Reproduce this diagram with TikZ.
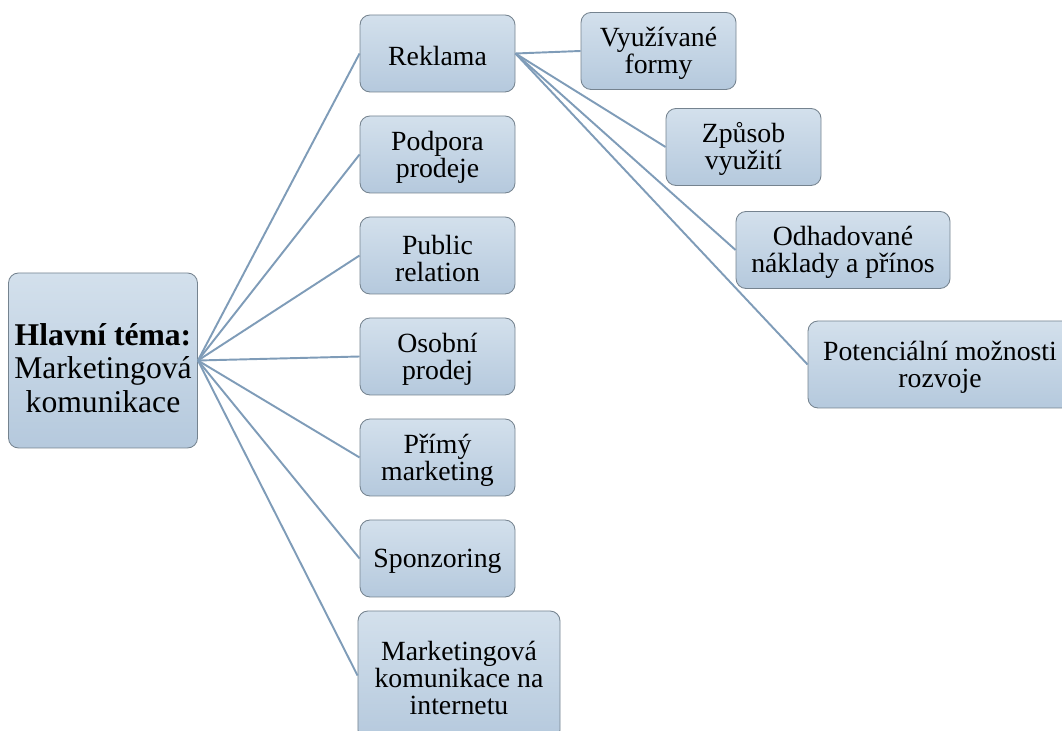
\documentclass[tikz,border=0pt]{standalone}
\usepackage{fontspec}
\setmainfont{Liberation Serif}
\usetikzlibrary{positioning}

\definecolor{boxtop}{HTML}{D3E0EC}
\definecolor{boxbot}{HTML}{B5C9DD}
\definecolor{boxline}{HTML}{75838F}
\definecolor{linkblue}{HTML}{7F9CB8}

\newcommand{\topicfont}{\fontsize{15.8}{15.3}\selectfont\lineskiplimit=-20pt\relax}
\newcommand{\mainfont}{\fontsize{18}{19}\selectfont\lineskiplimit=-20pt\relax}

\begin{document}
\begin{tikzpicture}[node distance=2.02cm, on grid, topic/.style={draw=boxline, line width=0.5pt, rounded corners=0.2cm, top color=boxtop, bottom color=boxbot, align=flush center, text width=2.9cm, text height=14pt, minimum width=3.1cm, minimum height=1.54cm, inner sep=2pt, font=\topicfont}, link/.style={draw=linkblue, line width=1.1pt}]

    \clip (0,0) rectangle (21.24,-14.62);

    \node[topic, minimum width=3.78cm, minimum height=3.5cm, text width=3.6cm, text height=21pt, font=\mainfont] (main) at (2.06,-7.21) {\textbf{Hlavní téma:}\\ Marketingová\\ komunikace};

    \node[topic] (rek) at (8.75,-1.07) {Reklama};
    \node[topic] (pod) [below=of rek] {Podpora\\ prodeje};
    \node[topic] (pub) [below=of pod] {Public\\ relation};
    \node[topic] (oso) [below=of pub] {Osobní\\ prodej};
    \node[topic] (pri) [below=of oso] {Přímý\\ marketing};
    \node[topic] (spo) [below=of pri] {Sponzoring};
    \node[topic, minimum width=4.04cm, text width=3.9cm, minimum height=2.58cm] (mki) at (9.18,-13.51) {Marketingová\\ komunikace na\\ internetu};

    \node[topic] (vyu) at (13.17,-1.02) {Využívané\\ formy};
    \node[topic] (zpu) at (14.87,-2.94) {Způsob\\ využití};
    \node[topic, minimum width=4.28cm, text width=4.1cm] (odh) at (16.86,-5.0) {Odhadované\\ náklady a přínos};
    \node[topic, minimum width=5.28cm, minimum height=1.74cm, text width=5.1cm] (pot) at (18.8,-7.29) {Potenciální možnosti\\ rozvoje};

    \path[link]
    (main.east) edge (rek.west) edge (pod.west) edge (pub.west) edge (oso.west)
    edge (pri.west) edge (spo.west) edge (mki.west)
    (rek.east) edge (vyu.west) edge (zpu.west) edge (odh.west) edge (pot.west);

\end{tikzpicture}
\end{document}
